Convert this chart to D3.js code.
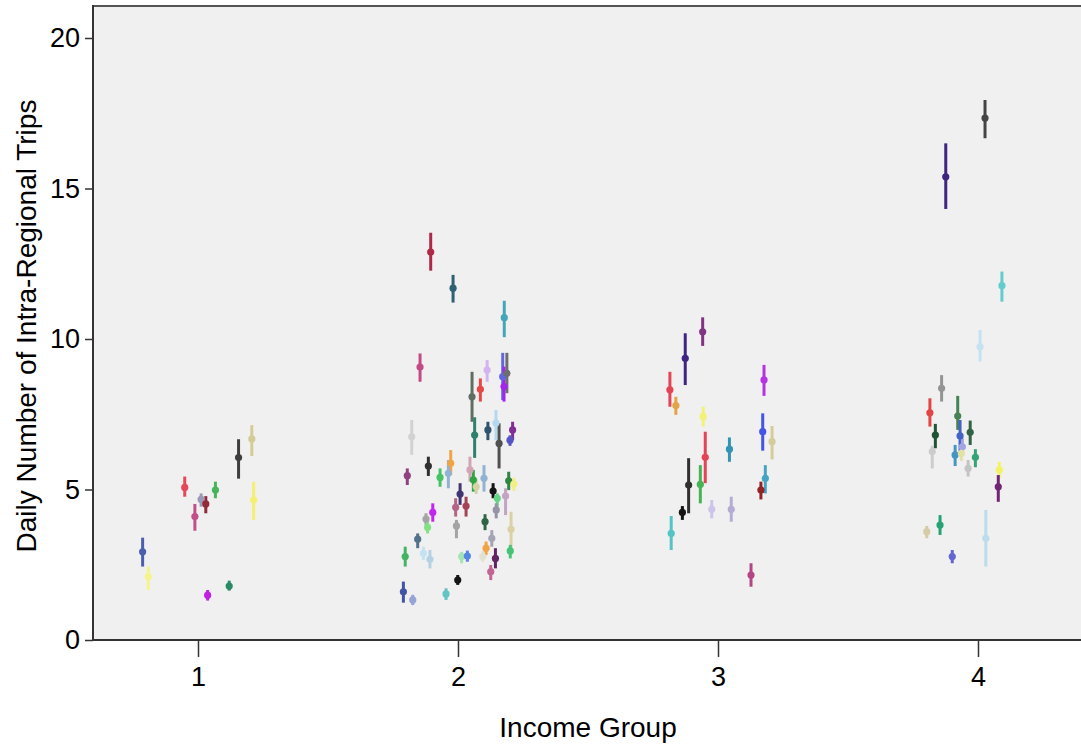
<!DOCTYPE html>
<html>
<head>
<meta charset="utf-8">
<script src="https://cdn.jsdelivr.net/npm/d3@7"></script>
<style>
  html, body { margin: 0; padding: 0; background: #ffffff; }
  svg { display: block; }
  text { font-family: "Liberation Sans", Arial, sans-serif; fill: #000; }
</style>
</head>
<body>
<svg id="chart" width="1081" height="749"></svg>
<script>
// Income group position of each region (group number plus horizontal jitter)
const incomePos = [
  // group 1
  0.787, 0.809, 0.949, 0.988, 1.012, 1.030, 1.067, 1.037, 1.120, 1.156, 1.207, 1.214,
  // group 2
  1.895, 1.981, 2.178, 1.854, 2.112, 2.054, 2.086, 2.172, 2.177, 2.188,
  1.822, 2.064, 2.115, 2.146, 2.210, 2.200, 2.158,
  1.805, 1.886, 1.931, 1.972, 1.963, 2.046, 2.059, 2.070, 2.100, 2.135, 2.195, 2.215,
  2.151, 2.183, 2.147, 2.008, 1.991, 2.031, 1.903, 1.877, 1.883, 1.994, 2.104, 2.130, 2.204,
  1.845, 1.797, 1.867, 1.892, 2.014, 2.036, 2.108, 2.095, 2.144, 2.126, 2.201, 1.999,
  1.790, 1.826, 1.954,
  // group 3
  2.941, 2.874, 2.815, 2.838, 2.943, 2.951, 3.044, 2.887, 2.932, 2.863, 2.976, 3.051,
  2.820, 3.127, 3.177, 3.172, 3.208, 3.182, 3.165,
  // group 4
  4.027, 3.876, 4.092, 4.008, 3.860, 3.815, 3.922, 3.836, 3.970, 3.931, 3.824, 3.912,
  3.940, 3.936, 3.962, 3.990, 4.082, 4.078, 3.854, 3.803, 4.030, 3.901
];

// Mean daily intra-regional trips
const meanTrips = [
  2.93, 2.10, 5.07, 4.10, 4.67, 4.52, 4.98, 1.49, 1.79, 6.06, 6.68, 4.65,
  12.89, 11.69, 10.71, 9.07, 8.97, 8.08, 8.33, 8.75, 8.42, 8.86,
  6.75, 6.81, 6.98, 7.21, 6.98, 6.64, 6.53,
  5.46, 5.78, 5.40, 5.87, 5.54, 5.65, 5.32, 5.09, 5.37, 4.95, 5.29, 5.18,
  4.71, 4.78, 4.32, 4.85, 4.41, 4.45, 4.24, 4.02, 3.74, 3.79, 3.93, 3.38, 3.68,
  3.35, 2.77, 2.88, 2.68, 2.77, 2.79, 3.05, 2.77, 2.71, 2.27, 2.96, 1.99,
  1.60, 1.33, 1.53,
  10.24, 9.36, 8.31, 7.79, 7.42, 6.07, 6.34, 5.15, 5.17, 4.24, 4.34, 4.34,
  3.54, 2.16, 8.64, 6.92, 6.59, 5.37, 4.98,
  17.34, 15.39, 11.77, 9.74, 8.36, 7.55, 7.44, 6.81, 6.90, 6.78, 6.26, 6.15,
  6.42, 6.20, 5.70, 6.07, 5.65, 5.09, 3.82, 3.60, 3.38, 2.77
];

// Lower bound of the error bar
const lowerCI = [
  2.44, 1.66, 4.76, 3.63, 4.43, 4.21, 4.71, 1.31, 1.64, 5.36, 6.11, 3.99,
  12.27, 11.21, 10.06, 8.58, 8.58, 7.25, 7.92, 7.97, 7.92, 8.20,
  6.15, 6.05, 6.64, 6.64, 6.64, 6.45, 5.70,
  5.15, 5.45, 5.09, 5.48, 5.04, 5.26, 4.93, 4.85, 4.93, 4.71, 4.98, 4.95,
  4.43, 4.15, 4.04, 4.49, 4.10, 4.10, 3.93, 3.82, 3.54, 3.38, 3.65, 3.10, 3.05,
  3.05, 2.44, 2.66, 2.38, 2.55, 2.60, 2.82, 2.60, 2.38, 1.99, 2.71, 1.83,
  1.24, 1.16, 1.33,
  9.77, 8.47, 7.75, 7.48, 7.09, 5.21, 5.92, 4.21, 4.54, 3.99, 4.04, 3.93,
  2.99, 1.77, 8.11, 6.29, 6.00, 4.87, 4.67,
  16.67, 14.32, 11.24, 9.25, 7.92, 7.09, 6.98, 6.37, 6.48, 6.26, 5.70, 5.78,
  6.15, 5.95, 5.43, 5.74, 5.37, 4.59, 3.49, 3.38, 2.44, 2.55
];

// Upper bound of the error bar
const upperCI = [
  3.40, 2.44, 5.43, 4.52, 4.87, 4.78, 5.26, 1.66, 1.97, 6.67, 7.14, 5.26,
  13.53, 12.13, 11.27, 9.52, 9.30, 8.91, 8.69, 9.54, 9.08, 9.54,
  7.31, 7.40, 7.25, 7.64, 7.25, 6.80, 7.20,
  5.70, 6.09, 5.70, 6.31, 5.98, 6.09, 5.65, 5.35, 5.81, 5.21, 5.59, 5.40,
  4.87, 5.04, 4.54, 5.21, 4.71, 4.76, 4.54, 4.21, 3.93, 3.99, 4.18, 3.65, 4.26,
  3.54, 3.10, 3.10, 2.99, 2.93, 2.97, 3.27, 2.95, 3.05, 2.49, 3.16, 2.16,
  1.94, 1.50, 1.72,
  10.72, 10.19, 8.91, 8.08, 7.75, 6.92, 6.73, 6.04, 5.81, 4.45, 4.65, 4.76,
  4.12, 2.55, 9.14, 7.53, 7.11, 5.81, 5.26,
  17.94, 16.50, 12.24, 10.30, 8.80, 8.03, 8.11, 7.18, 7.29, 7.31, 6.45, 6.48,
  6.70, 6.45, 5.98, 6.34, 5.92, 5.48, 4.15, 3.79, 4.32, 2.99
];

// One colour per region
const regionColors = [
  "#4a5fb0", "#f4f48a", "#e4485a", "#c0508a", "#9a9ab8", "#922a3a", "#48b45a", "#c020e0", "#2a8a66", "#3e3e3e", "#d4cc96", "#f4f070",
  "#b02848", "#2e6272", "#44a6b8", "#c44a86", "#d4b4f0", "#606e62", "#e64848", "#6464e6", "#a424f0", "#6e6e6e",
  "#d2d2d2", "#30806e", "#30536e", "#b4d8f0", "#803094", "#5454c4", "#505050",
  "#904080", "#303030", "#44c464", "#f0a444", "#92b2d4", "#d4a4b4", "#30a444", "#d6d2a6", "#92b2d2", "#141414", "#308444", "#f2f084",
  "#64d484", "#c4a4c4", "#9494a6", "#403472", "#b46484", "#a44454", "#c424f0", "#a4a4a4", "#84e084", "#a4a4a4", "#306444", "#a4a4b4", "#dad2a2",
  "#50728a", "#44b464", "#c4e2f2", "#b4d2e4", "#a4e4b4", "#5484e4", "#f0a444", "#e2e2d2", "#602464", "#c46494", "#44c474", "#141414",
  "#4454a4", "#94a4d4", "#64c4c4",
  "#803484", "#402484", "#e44454", "#e2a444", "#f2f274", "#e44454", "#3494b4", "#303030", "#44b454", "#141414", "#ccc4ea", "#b4acd4",
  "#54c4c4", "#b44484", "#b434e4", "#4454e4", "#d4cc9c", "#44a4c4", "#942424",
  "#444444", "#402484", "#64cccc", "#c4e2f2", "#949494", "#e44444", "#448454", "#205434", "#306444", "#4464c4", "#cccccc", "#4494c4",
  "#a4a4e4", "#e2e2a4", "#c4c4c4", "#34a474", "#f2f264", "#742474", "#24a474", "#d4cca4", "#bcdcec", "#6464d4"
];

const yTicks = [0, 5, 10, 15, 20];
const xTicks = [1, 2, 3, 4];
const xTitle = "Income Group";
const yTitle = "Daily Number of Intra-Regional Trips";

const svg = d3.select("#chart");
const W = 1081, H = 749;
const plotLeft = 93, plotTop = 6, plotBottom = 640;

const x = d3.scaleLinear().domain([1, 4]).range([198, 978]);
const y = d3.scaleLinear().domain([0, 20]).range([plotBottom, 38]);

// Plot panel
svg.append("rect")
  .attr("x", plotLeft).attr("y", plotTop)
  .attr("width", W - plotLeft + 5).attr("height", plotBottom - plotTop)
  .attr("fill", "#f0f0f0");

svg.append("line")
  .attr("x1", plotLeft).attr("x2", W + 5)
  .attr("y1", plotTop).attr("y2", plotTop)
  .attr("stroke", "#555").attr("stroke-width", 2);

// Error bars and means
const data = incomePos.map((v, i) => ({
  pos: v, mean: meanTrips[i], lo: lowerCI[i], hi: upperCI[i], color: regionColors[i]
}));

const marks = svg.append("g");
marks.selectAll("line.bar").data(data).join("line")
  .attr("class", "bar")
  .attr("x1", d => x(d.pos)).attr("x2", d => x(d.pos))
  .attr("y1", d => y(d.lo)).attr("y2", d => y(d.hi))
  .attr("stroke", d => d.color).attr("stroke-width", 3);

marks.selectAll("circle").data(data).join("circle")
  .attr("cx", d => x(d.pos)).attr("cy", d => y(d.mean))
  .attr("r", 3.6)
  .attr("fill", d => d.color);

// Axes
const yAxis = svg.append("g")
  .attr("transform", `translate(${plotLeft},0)`)
  .call(d3.axisLeft(y).tickValues(yTicks).tickSize(8).tickPadding(5).tickSizeOuter(0));
yAxis.select(".domain").remove();
yAxis.selectAll(".tick line").attr("stroke", "#333").attr("stroke-width", 1.5);
yAxis.selectAll(".tick text")
  .attr("font-size", 27).attr("font-family", "Liberation Sans, Arial, sans-serif")
  .attr("fill", "#111");

svg.append("line")
  .attr("x1", plotLeft).attr("x2", plotLeft)
  .attr("y1", plotTop - 1).attr("y2", plotBottom + 1)
  .attr("stroke", "#333").attr("stroke-width", 2);

const xAxis = svg.append("g")
  .attr("transform", `translate(0,${plotBottom})`)
  .call(d3.axisBottom(x).tickValues(xTicks).tickFormat(d3.format("d")).tickSize(17).tickPadding(10).tickSizeOuter(0));
xAxis.select(".domain").remove();
xAxis.selectAll(".tick line").attr("stroke", "#333").attr("stroke-width", 1.5);
xAxis.selectAll(".tick text")
  .attr("font-size", 27).attr("font-family", "Liberation Sans, Arial, sans-serif")
  .attr("fill", "#111");

svg.append("line")
  .attr("x1", plotLeft - 1).attr("x2", W + 5)
  .attr("y1", plotBottom).attr("y2", plotBottom)
  .attr("stroke", "#333").attr("stroke-width", 2);

// Axis titles
svg.append("text")
  .attr("x", 588).attr("y", 737)
  .attr("text-anchor", "middle")
  .attr("font-size", 28)
  .text(xTitle);

svg.append("text")
  .attr("transform", `translate(36,326) rotate(-90)`)
  .attr("text-anchor", "middle")
  .attr("font-size", 28)
  .text(yTitle);
</script>
</body>
</html>
